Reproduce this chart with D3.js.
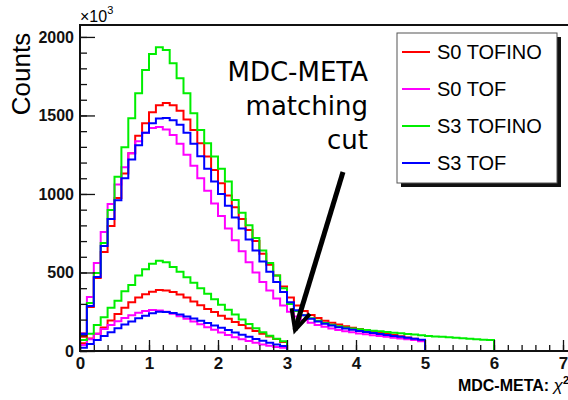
<!DOCTYPE html>
<html>
<head>
<meta charset="utf-8">
<script src="https://cdn.jsdelivr.net/npm/d3@7"></script>
<style>
  body { margin: 0; background: #fff; }
  svg { display: block; }
  .tick text { font-family: "Liberation Sans", Arial, sans-serif; font-weight: bold; font-size: 16px; fill: #111; }
</style>
</head>
<body>
<div id="chart"></div>
<script>
// legend entries, in drawing order
const seriesNames = ["S0 TOFINO", "S0 TOF", "S3 TOFINO", "S3 TOF"];

// bin width of all histograms (chi2 units)
const binWidth = 0.1;

// histograms before the cut, bins of 0.1 starting at 0 (counts / 1000)
const s0TofinoAll = [90, 280, 465, 631, 796, 975, 1130, 1260, 1370, 1450,
  1520, 1565, 1580, 1565, 1530, 1475, 1408, 1323, 1238, 1153,
  1068, 990, 915, 840, 770, 700, 620, 550, 480, 410,
  340, 290, 255, 230, 210, 193, 180, 168, 158, 148,
  140, 132, 124, 117, 110, 102, 94, 86, 78, 68];
const s0TofAll = [115, 344, 561, 758, 936, 1060, 1170, 1260, 1335, 1390,
  1420, 1427, 1410, 1375, 1320, 1250, 1180, 1100, 1020, 940,
  860, 780, 705, 635, 565, 500, 440, 385, 335, 290,
  250, 220, 198, 180, 166, 154, 143, 134, 126, 119,
  112, 106, 100, 95, 90, 85, 80, 75, 70, 62];
const s3TofinoAll = [110, 306, 497, 688, 898, 1110, 1297, 1482, 1641, 1790,
  1892, 1934, 1917, 1832, 1737, 1641, 1514, 1408, 1323, 1238,
  1160, 1080, 962, 880, 800, 720, 640, 560, 480, 400,
  300, 255, 228, 208, 192, 178, 167, 157, 150, 144,
  139, 134, 129, 125, 121, 117, 113, 109, 105, 100,
  96, 93, 90, 87, 84, 81, 78, 75, 72, 70];
const s3TofAll = [108, 287, 471, 669, 841, 960, 1100, 1220, 1310, 1390,
  1450, 1480, 1484, 1470, 1440, 1390, 1320, 1240, 1160, 1080,
  1000, 925, 850, 780, 710, 640, 570, 505, 440, 375,
  310, 260, 228, 205, 188, 174, 162, 152, 143, 135,
  128, 121, 114, 108, 102, 96, 90, 84, 78, 72];

// histograms after the MDC-META matching cut (chi2 < 3)
const s0TofinoCut = [50, 80, 110, 150, 195, 235, 275, 310, 340, 362,
  378, 388, 386, 375, 360, 340, 315, 292, 268, 248,
  225, 205, 185, 165, 145, 128, 110, 93, 76, 58];
const s0TofCut = [38, 75, 110, 140, 165, 190, 210, 228, 243, 255,
  261, 258, 250, 238, 222, 205, 188, 170, 152, 135,
  118, 102, 88, 75, 63, 52, 42, 34, 26, 20];
const s3TofinoCut = [70, 110, 165, 215, 275, 320, 380, 420, 480, 520,
  555, 575, 565, 535, 505, 470, 435, 400, 365, 330,
  295, 262, 232, 200, 172, 145, 120, 97, 78, 62];
const s3TofCut = [20, 45, 70, 95, 120, 145, 168, 188, 208, 225,
  240, 250, 248, 242, 232, 220, 207, 192, 178, 163,
  148, 133, 118, 104, 90, 77, 65, 53, 42, 32];

const xTicks = [0, 1, 2, 3, 4, 5, 6, 7];
const yTicks = [0, 500, 1000, 1500, 2000];

const width = 568, height = 400;
const frame = {left: 80, top: 25, bottom: 351};
const xMax = 7.2;

const colors = d3.scaleOrdinal()
  .domain(seriesNames)
  .range(["#ff0000", "#ff00ff", "#00ee00", "#0000ff"]);

const svg = d3.select("#chart").append("svg")
  .attr("width", width)
  .attr("height", height);

const x = d3.scaleLinear()
  .domain([0, xMax])
  .range([frame.left, frame.left + 69 * xMax]);

const y = d3.scaleLinear()
  .domain([0, 2076])
  .range([frame.bottom, frame.top]);

// step outline like a ROOT histogram, zero bins continue along the baseline
const stepLine = d3.line()
  .x(d => x(d[0]))
  .y(d => y(d[1]))
  .curve(d3.curveStepAfter);

function histPoints(values) {
  let pts = [[0, 0]];
  values.forEach((v, i) => pts.push([i * binWidth, v]));
  pts.push([values.length * binWidth, 0]);
  pts.push([xMax, 0]);
  return pts;
}

const hists = [
  {name: "S0 TOFINO", values: s0TofinoCut},
  {name: "S0 TOF", values: s0TofCut},
  {name: "S3 TOFINO", values: s3TofinoCut},
  {name: "S3 TOF", values: s3TofCut},
  {name: "S0 TOFINO", values: s0TofinoAll},
  {name: "S0 TOF", values: s0TofAll},
  {name: "S3 TOFINO", values: s3TofinoAll},
  {name: "S3 TOF", values: s3TofAll}
];

svg.append("g").selectAll("path")
  .data(hists)
  .enter().append("path")
  .attr("d", d => stepLine(histPoints(d.values)))
  .style("fill", "none")
  .style("stroke", d => colors(d.name))
  .style("stroke-width", 2);

// axes, ticks drawn inside the frame
let yMinor = svg.append("g")
  .attr("transform", "translate(" + frame.left + ",0)")
  .call(d3.axisLeft(y).tickValues(d3.range(0, 2001, 100)).tickSize(-7).tickFormat(""));
let yAxis = svg.append("g")
  .attr("transform", "translate(" + frame.left + ",0)")
  .call(d3.axisLeft(y).tickValues(yTicks).tickSize(-15).tickPadding(6).tickFormat(d3.format("d")));

let xMinor = svg.append("g")
  .attr("transform", "translate(0," + frame.bottom + ")")
  .call(d3.axisBottom(x).tickValues(d3.range(0, 7.1, 0.2)).tickSize(-6).tickFormat(""));
let xAxis = svg.append("g")
  .attr("transform", "translate(0," + frame.bottom + ")")
  .call(d3.axisBottom(x).tickValues(xTicks).tickSize(-11).tickPadding(6).tickFormat(d3.format("d")));

[yMinor, yAxis, xMinor, xAxis].forEach(a => {
  a.select(".domain").remove();
  a.selectAll("line").style("stroke", "#111").style("stroke-width", 1.3);
});
xAxis.selectAll("text").style("font-size", "17px");

// frame
svg.append("rect")
  .attr("x", frame.left)
  .attr("y", frame.top)
  .attr("width", x(xMax) - frame.left)
  .attr("height", frame.bottom - frame.top)
  .style("fill", "none")
  .style("stroke", "#111")
  .style("stroke-width", 2);

// axis titles
svg.append("text")
  .attr("transform", "translate(30,74) rotate(-90)")
  .attr("text-anchor", "middle")
  .style("font-family", "Liberation Sans, Arial, sans-serif")
  .style("font-size", "26px")
  .text("Counts");

let xTitle = svg.append("text")
  .attr("x", 569)
  .attr("y", 391)
  .attr("text-anchor", "end")
  .style("font-family", "Liberation Sans, Arial, sans-serif")
  .style("font-weight", "bold")
  .style("font-size", "16px");
xTitle.append("tspan").text("MDC-META: ");
xTitle.append("tspan").style("font-weight", "normal").style("font-style", "italic").style("font-size", "17px").text("χ");
xTitle.append("tspan").attr("dy", -7).style("font-size", "11px").text("2");

let expo = svg.append("text")
  .attr("x", 80)
  .attr("y", 22)
  .style("font-family", "Liberation Sans, Arial, sans-serif")
  .style("font-size", "16px");
expo.append("tspan").text("×10");
expo.append("tspan").attr("dy", -8).style("font-size", "11px").text("3");

// legend with ROOT style shadow
const legend = {x: 397, y: 33, w: 160, h: 150};
svg.append("rect")
  .attr("x", legend.x + 4).attr("y", legend.y + 4)
  .attr("width", legend.w).attr("height", legend.h)
  .style("fill", "#111");
svg.append("rect")
  .attr("x", legend.x).attr("y", legend.y)
  .attr("width", legend.w).attr("height", legend.h)
  .style("fill", "#fff")
  .style("stroke", "#555")
  .style("stroke-width", 1);

let entries = svg.append("g").selectAll(".entry")
  .data(seriesNames)
  .enter().append("g")
  .attr("class", "entry")
  .attr("transform", (d, i) => "translate(" + legend.x + "," + (legend.y + 19 + i * 37) + ")");
entries.append("line")
  .attr("x1", 5).attr("x2", 33)
  .style("stroke", d => colors(d))
  .style("stroke-width", 2);
entries.append("text")
  .attr("x", 40)
  .attr("dy", "0.36em")
  .style("font-family", "Liberation Sans, Arial, sans-serif")
  .style("font-size", "20px")
  .text(d => d);

// annotation
const noteLines = ["MDC-META", "matching", "cut"];
svg.append("g").selectAll("text")
  .data(noteLines)
  .enter().append("text")
  .attr("x", 368)
  .attr("y", (d, i) => 81 + i * 34)
  .attr("text-anchor", "end")
  .style("font-family", "DejaVu Sans, Verdana, sans-serif")
  .style("font-size", "26px")
  .text(d => d);

const tail = [343, 172], tip = [295, 330];
const ang = Math.atan2(tail[1] - tip[1], tail[0] - tip[0]);
const headLen = 22, spread = 0.45;
svg.append("line")
  .attr("x1", tail[0]).attr("y1", tail[1])
  .attr("x2", tip[0]).attr("y2", tip[1])
  .style("stroke", "#000")
  .style("stroke-width", 5);
svg.append("path")
  .attr("d", "M" + (tip[0] + headLen * Math.cos(ang - spread)) + "," + (tip[1] + headLen * Math.sin(ang - spread)) +
    "L" + tip[0] + "," + tip[1] +
    "L" + (tip[0] + headLen * Math.cos(ang + spread)) + "," + (tip[1] + headLen * Math.sin(ang + spread)))
  .style("fill", "none")
  .style("stroke", "#000")
  .style("stroke-width", 4)
  .style("stroke-linejoin", "miter");
</script>
</body>
</html>
